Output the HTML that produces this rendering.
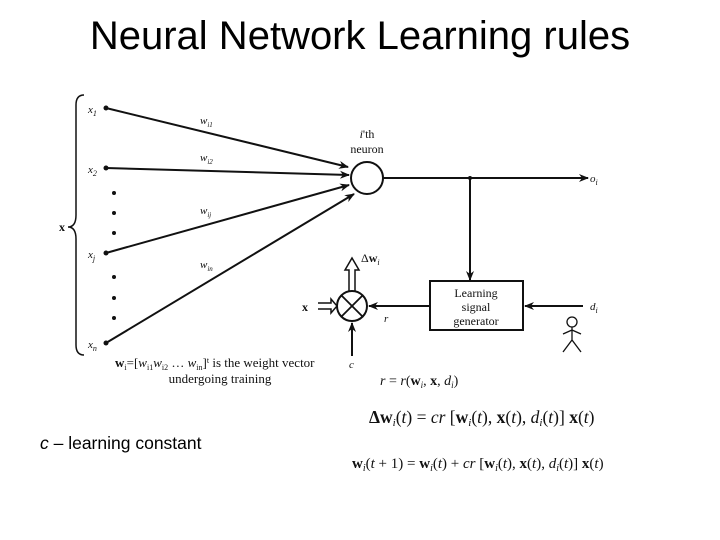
<!DOCTYPE html>
<html><head><meta charset="utf-8"><style>
html,body{margin:0;padding:0;background:#fff;width:720px;height:540px;overflow:hidden}
svg{display:block}
.s{font-family:"Liberation Serif",serif;fill:#111}
</style></head><body>
<svg width="720" height="540" viewBox="0 0 720 540">
<defs>
<marker id="a" markerWidth="10" markerHeight="8" refX="9" refY="4" orient="auto" markerUnits="userSpaceOnUse"><path d="M0,0 L10,4 L0,8 L3,4 Z" fill="#111"/></marker>
</defs>
<text x="360" y="49" text-anchor="middle" font-family="Liberation Sans,sans-serif" font-size="40" fill="#000">Neural Network Learning rules</text>
<g stroke="#111" stroke-width="2" fill="none">
<path d="M84,95 Q76,95 76,105 L76,215 Q76,227 68,227 Q76,227 76,239 L76,345 Q76,355 84,355" stroke-width="1.5"/>
<line x1="106" y1="108" x2="348" y2="167" marker-end="url(#a)"/>
<line x1="106" y1="168" x2="349" y2="175" marker-end="url(#a)"/>
<line x1="106" y1="253" x2="349" y2="185" marker-end="url(#a)"/>
<line x1="106" y1="343" x2="354" y2="194" marker-end="url(#a)"/>
<circle cx="367" cy="178" r="16"/>
<line x1="383" y1="178" x2="588" y2="178" marker-end="url(#a)"/>
<line x1="470" y1="178" x2="470" y2="280" marker-end="url(#a)"/>
<rect x="430" y="281" width="93" height="49"/>
<line x1="583" y1="306" x2="525" y2="306" marker-end="url(#a)"/>
<line x1="430" y1="306" x2="369" y2="306" marker-end="url(#a)"/>
<circle cx="352" cy="306" r="15"/>
<line x1="342" y1="296" x2="362" y2="316" stroke-width="1.8"/>
<line x1="362" y1="296" x2="342" y2="316" stroke-width="1.8"/>
<line x1="352" y1="356" x2="352" y2="323" marker-end="url(#a)"/>
<path d="M349,291 L349,270 L345,270 L352,258 L359,270 L355,270 L355,291" stroke-width="1.5"/>
<path d="M318,303 L331,303 L331,299 L337,306 L331,313 L331,309 L318,309" stroke-width="1.5"/>
<circle cx="572" cy="322" r="5" stroke-width="1.3"/>
<path d="M572,327 L572,340 M563,334 L572,330 L581,334 M563,352 L572,340 L581,352" stroke-width="1.3"/>
</g>
<g fill="#111">
<circle cx="106" cy="108" r="2.5"/><circle cx="106" cy="168" r="2.5"/><circle cx="106" cy="253" r="2.5"/><circle cx="106" cy="343" r="2.5"/>
<circle cx="114" cy="193" r="2"/><circle cx="114" cy="213" r="2"/><circle cx="114" cy="233" r="2"/>
<circle cx="114" cy="277" r="2"/><circle cx="114" cy="298" r="2"/><circle cx="114" cy="318" r="2"/>
<circle cx="470" cy="178" r="2"/>
</g>
<g class="s" font-size="11" font-style="italic">
<text x="88" y="113">x<tspan font-size="8" dy="3">1</tspan></text>
<text x="88" y="173">x<tspan font-size="8" dy="3">2</tspan></text>
<text x="88" y="258">x<tspan font-size="8" dy="3">j</tspan></text>
<text x="88" y="348">x<tspan font-size="8" dy="3">n</tspan></text>
<text x="200" y="124">w<tspan font-size="7" dy="3">i1</tspan></text>
<text x="200" y="161">w<tspan font-size="7" dy="3">i2</tspan></text>
<text x="200" y="214">w<tspan font-size="7" dy="3">ij</tspan></text>
<text x="200" y="268">w<tspan font-size="7" dy="3">in</tspan></text>
<text x="590" y="182">o<tspan font-size="8" dy="3">i</tspan></text>
<text x="590" y="310">d<tspan font-size="8" dy="3">i</tspan></text>
<text x="384" y="322">r</text>
<text x="349" y="368">c</text>
</g>
<g class="s" font-size="12">
<text x="59" y="231" font-weight="bold">x</text>
<text x="302" y="311" font-weight="bold">x</text>
<text x="361" y="262">Δ<tspan font-weight="bold">w</tspan><tspan font-style="italic" font-size="8" dy="3">i</tspan></text>
<text x="367" y="138" text-anchor="middle"><tspan font-style="italic">i</tspan>'th</text>
<text x="367" y="153" text-anchor="middle">neuron</text>
<text x="476" y="297" text-anchor="middle">Learning</text>
<text x="476" y="311" text-anchor="middle">signal</text>
<text x="476" y="325" text-anchor="middle">generator</text>
</g>
<g class="s" font-size="13">
<text x="115" y="367"><tspan font-weight="bold">w</tspan><tspan font-size="8" dy="3">i</tspan><tspan dy="-3">=[</tspan><tspan font-style="italic">w</tspan><tspan font-size="8" dy="3">i1</tspan><tspan font-style="italic" dy="-3">w</tspan><tspan font-size="8" dy="3">i2</tspan><tspan dy="-3"> … </tspan><tspan font-style="italic">w</tspan><tspan font-size="8" dy="3">in</tspan><tspan dy="-3">]</tspan><tspan font-size="8" dy="-4">t</tspan><tspan dy="4"> is the weight vector</tspan></text>
<text x="220" y="383" text-anchor="middle">undergoing training</text>
</g>
<g class="s" font-size="14">
<text x="380" y="385"><tspan font-style="italic">r</tspan> = <tspan font-style="italic">r</tspan>(<tspan font-weight="bold">w</tspan><tspan font-style="italic" font-size="9" dy="3">i</tspan><tspan dy="-3">, </tspan><tspan font-weight="bold">x</tspan>, <tspan font-style="italic">d</tspan><tspan font-style="italic" font-size="9" dy="3">i</tspan><tspan dy="-3">)</tspan></text>
</g>
<g class="s">
<text x="369" y="423" font-size="17.5"><tspan font-weight="bold">Δw</tspan><tspan font-style="italic" font-size="11" dy="3">i</tspan><tspan dy="-3">(</tspan><tspan font-style="italic">t</tspan>) = <tspan font-style="italic">cr</tspan> [<tspan font-weight="bold">w</tspan><tspan font-style="italic" font-size="11" dy="3">i</tspan><tspan dy="-3">(</tspan><tspan font-style="italic">t</tspan>), <tspan font-weight="bold">x</tspan>(<tspan font-style="italic">t</tspan>), <tspan font-style="italic">d</tspan><tspan font-style="italic" font-size="11" dy="3">i</tspan><tspan dy="-3">(</tspan><tspan font-style="italic">t</tspan>)] <tspan font-weight="bold">x</tspan>(<tspan font-style="italic">t</tspan>)</text>
<text x="352" y="468" font-size="15"><tspan font-weight="bold">w</tspan><tspan font-style="italic" font-size="10" dy="3">i</tspan><tspan dy="-3">(</tspan><tspan font-style="italic">t</tspan> + 1) = <tspan font-weight="bold">w</tspan><tspan font-style="italic" font-size="10" dy="3">i</tspan><tspan dy="-3">(</tspan><tspan font-style="italic">t</tspan>) + <tspan font-style="italic">cr</tspan> [<tspan font-weight="bold">w</tspan><tspan font-style="italic" font-size="10" dy="3">i</tspan><tspan dy="-3">(</tspan><tspan font-style="italic">t</tspan>), <tspan font-weight="bold">x</tspan>(<tspan font-style="italic">t</tspan>), <tspan font-style="italic">d</tspan><tspan font-style="italic" font-size="10" dy="3">i</tspan><tspan dy="-3">(</tspan><tspan font-style="italic">t</tspan>)] <tspan font-weight="bold">x</tspan>(<tspan font-style="italic">t</tspan>)</text>
</g>
<text x="40" y="449" font-family="Liberation Sans,sans-serif" font-size="17.5" fill="#000"><tspan font-style="italic">c</tspan> – learning constant</text>
</svg>
</body></html>
